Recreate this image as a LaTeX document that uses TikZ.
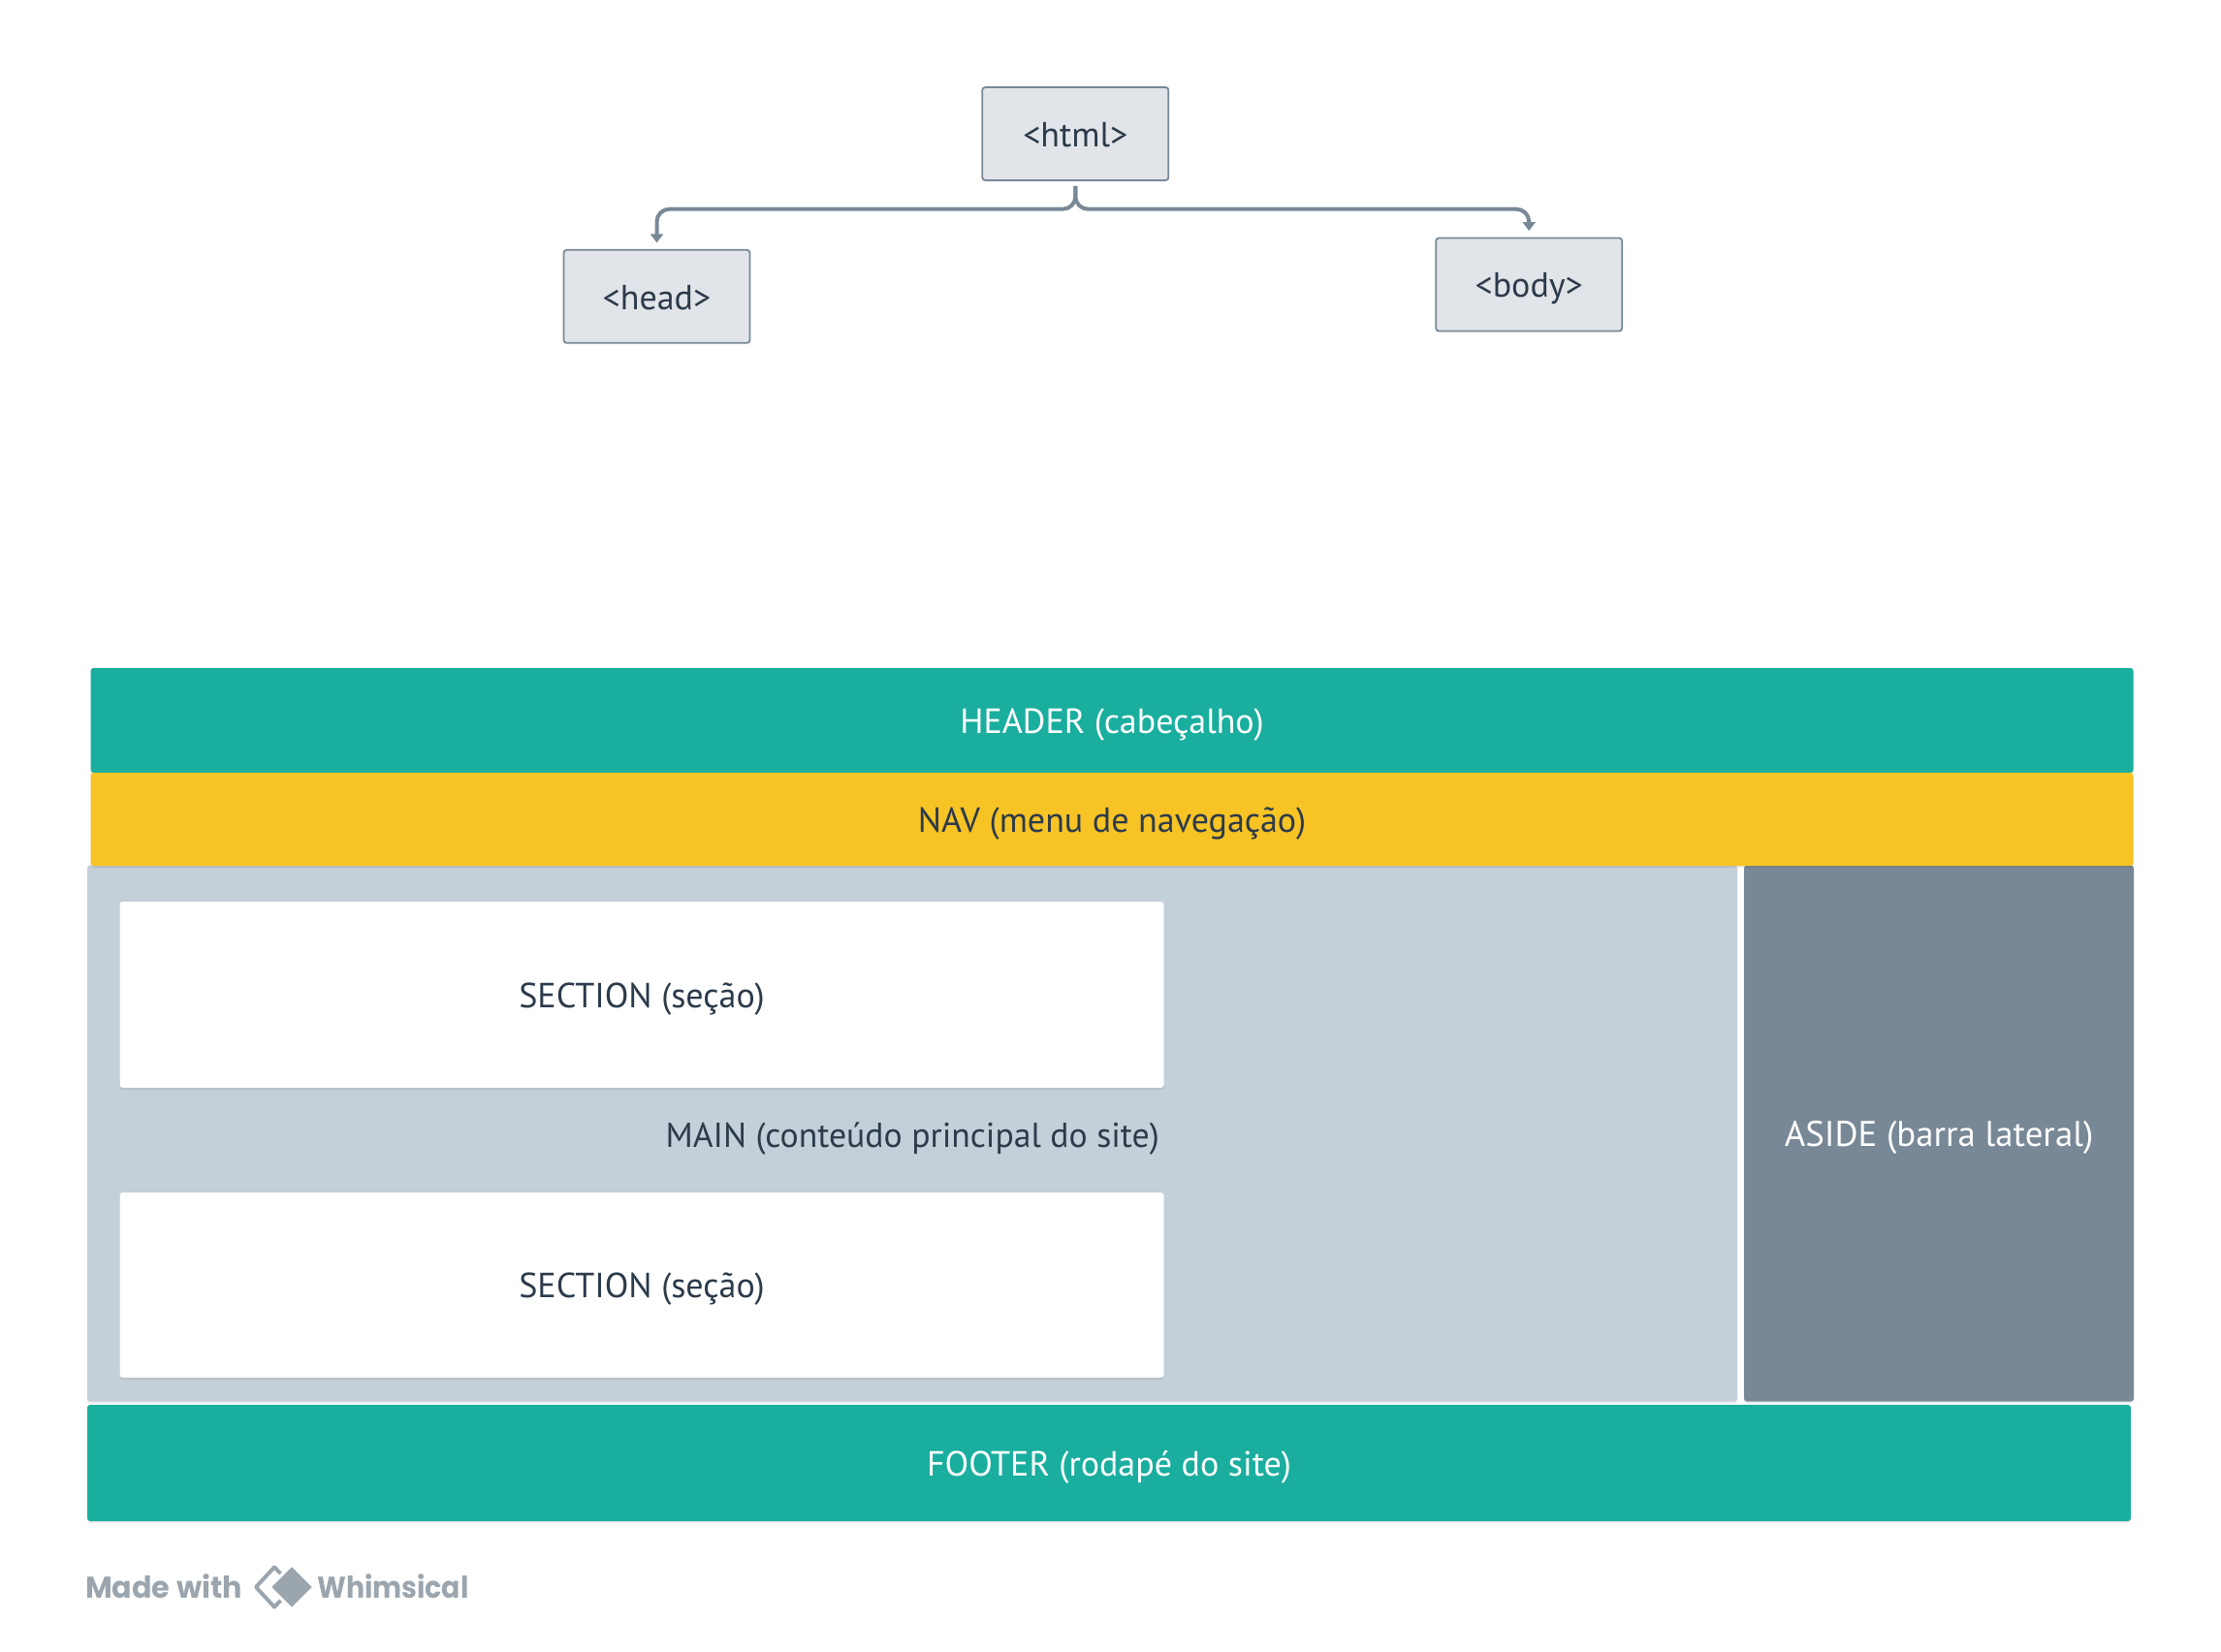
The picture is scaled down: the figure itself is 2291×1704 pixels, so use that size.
\documentclass[tikz,border=0pt]{standalone}
\usepackage{fontspec}
\setmainfont{PT Sans}
\newfontfamily\logofont{Poppins}
\usetikzlibrary{arrows.meta,shadows,calc}
\definecolor{ink}{HTML}{2C3A4A}
\definecolor{steel}{HTML}{788896}
\definecolor{cardfill}{HTML}{E1E4E8}
\definecolor{teal}{HTML}{1AAE9F}
\definecolor{amber}{HTML}{F7C325}
\definecolor{mist}{HTML}{C3CFD9}
\definecolor{logogrey}{HTML}{9BA5AD}
\newcommand{\logotext}[2]{\scalebox{#1}[1]{#2}}
\tikzset{
  x=1pt,y=-1pt,
  softshadow/.style={general shadow={shadow xshift=0pt,shadow yshift=-2pt,fill=black,opacity=.08}},
  label text/.style={font=\fontsize{36}{42}\selectfont,text=ink,text height=30pt,text depth=3.5pt,inner sep=0pt},
  card/.style={draw=steel,fill=cardfill,line width=1.8pt,rounded corners=3pt,minimum width=192pt,minimum height=96pt,label text},
  band/.style={rounded corners=3pt,inner sep=0pt,label text,softshadow},
  conn/.style={draw=steel,line width=4pt,rounded corners=13pt,shorten <=5pt,shorten >=6.5pt,-{Triangle[length=9pt,width=13pt]}},
}
\begin{document}
\begin{tikzpicture}
\useasboundingbox (0,0) rectangle (2291,1704);
\node[card] (html) at (1109.3,138) {<html>};
\node[card] (head) at (677.5,305.8) {<head>};
\node[card] (body) at (1577.2,293.5) {<body>};
\coordinate (bus) at (0,215.7);
\draw[conn] (html.south) -- (html.south |- bus) -- (head.north |- bus) -- (head.north);
\draw[conn] (html.south) -- (html.south |- bus) -- (body.north |- bus) -- (body.north);

\node[band,fill=mist,minimum width=1702pt,minimum height=553pt] (main) at (941,1169) {};
\node[band,fill=steel,minimum width=402pt,minimum height=553pt,text=white,font=\fontsize{36.8}{42}\selectfont] (aside) at (2000,1169) {ASIDE (barra lateral)};
\node[band,fill=teal,minimum width=2107pt,minimum height=108pt,text=white] (header) at (1147,743) {HEADER (cabeçalho)};
\node[band,fill=amber,minimum width=2107pt,minimum height=96pt] (nav) at (1147,845) {NAV (menu de navegação)};
\node[band,fill=white,minimum width=1077pt,minimum height=192pt] (sec1) at (662,1026) {SECTION (seção)};
\node[band,fill=white,minimum width=1077pt,minimum height=191pt] (sec2) at (662,1325.5) {SECTION (seção)};
\node[label text,anchor=east,font=\fontsize{35.7}{42}\selectfont] (mainlabel) at (1196,1170.5) {MAIN (conteúdo principal do site)};
\node[band,fill=teal,minimum width=2108pt,minimum height=120pt,text=white] (footer) at (1144,1509) {FOOTER (rodapé do site)};

\node[anchor=base west,inner sep=0pt,text=logogrey,font=\logofont\bfseries\fontsize{31}{36}\selectfont] (made) at (88,1648) {\logotext{.975}{Made with}};
\node[anchor=base west,inner sep=0pt,text=logogrey,font=\logofont\bfseries\fontsize{31}{36}\selectfont] (whim) at (327,1648) {\logotext{.915}{Whimsical}};
\draw[logogrey,line width=4pt,line join=round] (283,1616.5) -- (303,1637) -- (283,1657.5) -- (264,1637) -- cycle;
\fill[logogrey,draw=white,line width=3pt,line join=round] (301,1614) -- (324,1637) -- (301,1660) -- (278,1637) -- cycle;
\end{tikzpicture}
\end{document}
